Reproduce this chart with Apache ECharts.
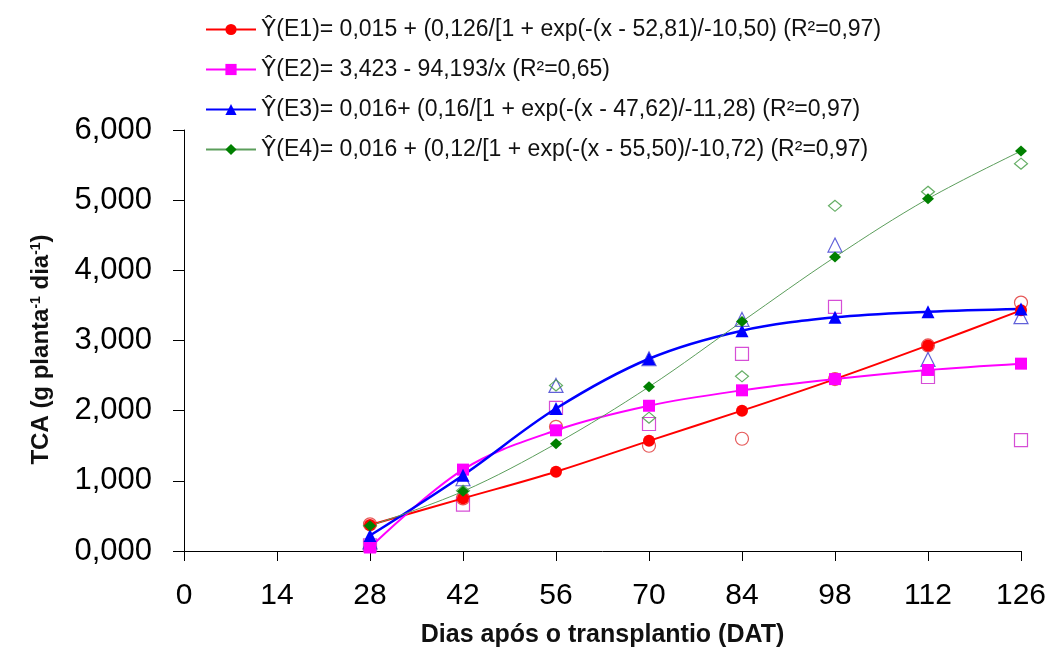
<!DOCTYPE html>
<html>
<head>
<meta charset="utf-8">
<title>TCA</title>
<script src="https://cdn.jsdelivr.net/npm/echarts@6/dist/echarts.min.js"></script>
<style>
  html, body { margin: 0; padding: 0; background: #fff; }
  #chart { width: 1052px; height: 648px; }
</style>
</head>
<body>
<div id="chart"></div>
<script>
// Days after transplanting
const days = [28, 42, 56, 70, 84, 98, 112, 126];
const xTicks = [0, 14, 28, 42, 56, 70, 84, 98, 112, 126];

// Fitted values (filled markers, curves)
const e1Fit = [0.37, 0.75, 1.13, 1.57, 2.00, 2.45, 2.93, 3.43];
const e2Fit = [0.05, 1.16, 1.72, 2.07, 2.29, 2.45, 2.58, 2.67];
const e3Fit = [0.22, 1.08, 2.03, 2.74, 3.14, 3.33, 3.41, 3.45];
const e4Fit = [0.36, 0.85, 1.53, 2.34, 3.27, 4.19, 5.02, 5.70];

// Observed values (open markers)
const e1Obs = [0.38, 0.75, 1.77, 1.50, 1.60, 2.45, 2.93, 3.54];
const e2Obs = [0.08, 0.66, 2.04, 1.81, 2.81, 3.48, 2.48, 1.58];
const e3Obs = [0.13, 1.03, 2.36, 2.74, 3.30, 4.36, 2.73, 3.34];
const e4Obs = [0.36, 0.86, 2.36, 1.90, 2.49, 4.92, 5.12, 5.52];

// Legend labels (regression equations)
const names = [
  'Ŷ(E1)= 0,015 + (0,126/[1 + exp(-(x - 52,81)/-10,50) (R²=0,97)',
  'Ŷ(E2)= 3,423 - 94,193/x (R²=0,65)',
  'Ŷ(E3)= 0,016+ (0,16/[1 + exp(-(x - 47,62)/-11,28) (R²=0,97)',
  'Ŷ(E4)= 0,016 + (0,12/[1 + exp(-(x - 55,50)/-10,72) (R²=0,97)'
];

const FONT = '"Liberation Sans", Arial, Helvetica, sans-serif';
const pairs = (ys) => days.map((d, i) => [d, ys[i]]);

const fitted = [
  { ys: e1Fit, color: '#ff0000', line: '#ff0000', width: 2, symbol: 'circle', size: 12 },
  { ys: e2Fit, color: '#ff00ff', line: '#ff00ff', width: 2, symbol: 'rect', size: 12 },
  { ys: e3Fit, color: '#0000ff', line: '#0000ff', width: 2.5, symbol: 'triangle', size: 13 },
  { ys: e4Fit, color: '#008000', line: '#5c9e5c', width: 1, symbol: 'diamond', size: [12, 11] }
];
const observed = [
  { ys: e1Obs, color: '#e03030', symbol: 'circle', size: 13 },
  { ys: e2Obs, color: '#cc22cc', symbol: 'rect', size: 13 },
  { ys: e3Obs, color: '#3a3ad0', symbol: 'triangle', size: 14 },
  { ys: e4Obs, color: '#3f9a3f', symbol: 'diamond', size: [13, 11] }
];

const series = [];
observed.forEach((s, i) => {
  series.push({
    name: 'obs' + (i + 1),
    type: 'scatter',
    data: pairs(s.ys),
    symbol: s.symbol,
    symbolSize: s.size,
    itemStyle: { color: 'rgba(0,0,0,0)', borderColor: s.color, borderWidth: 1.2 },
    z: 1,
    silent: true
  });
});
fitted.forEach((s, i) => {
  series.push({
    name: names[i],
    type: 'line',
    data: pairs(s.ys),
    smooth: 0.35,
    symbol: s.symbol,
    symbolSize: s.size,
    showAllSymbol: true,
    itemStyle: { color: s.color },
    lineStyle: { color: s.line, width: s.width },
    z: 3
  });
});

const chart = echarts.init(document.getElementById('chart'), null, { renderer: 'canvas' });
chart.setOption({
  animation: false,
  backgroundColor: '#ffffff',
  textStyle: { fontFamily: FONT },
  legend: {
    data: names,
    orient: 'vertical',
    left: 200,
    top: 13,
    itemWidth: 50,
    itemHeight: 14,
    itemGap: 17,
    textStyle: { fontSize: 23, color: '#111', fontFamily: FONT }
  },
  grid: {
    left: 184, right: 31, top: 130, bottom: 97,
    containLabel: false,
    outerBoundsMode: 'none'
  },
  xAxis: {
    type: 'value',
    min: 0, max: 126, interval: 14,
    name: 'Dias após o transplantio (DAT)',
    nameLocation: 'middle',
    nameGap: 72,
    nameTextStyle: { fontSize: 25, fontWeight: 'bold', color: '#111', fontFamily: FONT },
    axisLine: { show: true, onZero: false, lineStyle: { color: '#000', width: 1 } },
    axisTick: { show: true, length: 10, lineStyle: { color: '#000' } },
    axisLabel: {
      margin: 30, fontSize: 30, color: '#000', fontFamily: FONT,
      formatter: (v) => xTicks.indexOf(v) >= 0 ? String(v) : ''
    },
    splitLine: { show: false }
  },
  yAxis: {
    type: 'value',
    min: 0, max: 6, interval: 1,
    name: 'TCA (g planta{sup|-1} dia{sup|-1})',
    nameLocation: 'middle',
    nameGap: 130,
    nameRotate: 90,
    nameTextStyle: {
      fontSize: 24, fontWeight: 'bold', color: '#111', fontFamily: FONT,
      padding: [0, 18, 0, 0],
      rich: {
        sup: { fontSize: 14, fontWeight: 'bold', fontFamily: FONT, color: '#111', padding: [0, 0, 11, 0] }
      }
    },
    axisLine: { show: true, lineStyle: { color: '#000', width: 1 } },
    axisTick: { show: true, length: 11, lineStyle: { color: '#000' } },
    axisLabel: {
      margin: 32, fontSize: 31, color: '#000', fontFamily: FONT,
      formatter: (v) => v.toFixed(3).replace('.', ',')
    },
    splitLine: { show: false }
  },
  series: series
});
</script>
</body>
</html>
